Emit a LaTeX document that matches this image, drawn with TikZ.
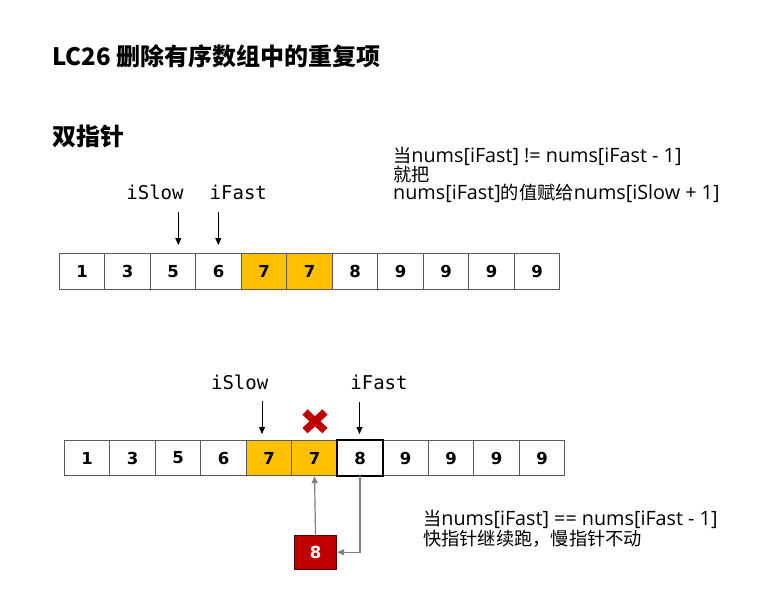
\documentclass[tikz,border=0pt]{standalone}
\usepackage{fontspec}
\setmainfont{Open Sans}[Scale=1.04]
\newfontfamily\cjk{Noto Sans CJK SC}[Scale=0.96]
\newfontfamily\cjkt{Noto Sans CJK SC}
\newfontfamily\monof{DejaVu Sans Mono}
\newfontfamily\digf{DejaVu Sans}
\usetikzlibrary{arrows.meta}
\definecolor{orng}{HTML}{FFC000}
\definecolor{dred}{HTML}{C00000}
\definecolor{cellline}{HTML}{595959}
\definecolor{grayarr}{HTML}{7F7F7F}
\begin{document}
\begin{tikzpicture}[x=1pt,y=-1pt,
 cell/.style={draw=cellline,line width=0.9pt,minimum width=45.5pt,minimum height=35.5pt,inner sep=0pt,font=\digf\fontsize{16.5}{16.5}\selectfont\bfseries},
 plain/.style={},
 hl/.style={fill=orng},
 ptr/.style={-{Triangle[width=6pt,length=7pt]},line width=0.8pt},
 garr/.style={-{Triangle[width=6pt,length=7pt]},line width=1.2pt,draw=grayarr},
 lbl/.style={font=\monof\fontsize{19}{19}\selectfont,anchor=base,inner sep=0pt},
 txt/.style={font=\fontsize{19}{19}\selectfont,anchor=base west,inner sep=0pt,text height=13pt,text depth=3.5pt},
 ttl/.style={font=\cjkt\fontsize{24}{24}\selectfont\bfseries,anchor=base west,inner sep=0pt}
]
\useasboundingbox (0,0) rectangle (766,592);
\fill[white] (0,0) rectangle (766,592);

% titles
\node[ttl] (title) at (52,65) {LC26 删除有序数组中的重复项};
\node[ttl] (sub) at (52,145) {双指针};

% top explanation
\node[txt] (e1) at (393,162.2) {{\cjk 当}nums[iFast] != nums[iFast - 1]};
\node[txt] (e2) at (393,181.5) {{\cjk 就把}};
\node[txt] (e3) at (393,199.5) {nums[iFast]{\cjk 的值赋给}nums[iSlow + 1]};

% top array
\foreach \v/\s [count=\i] in {1/plain,3/plain,5/plain,6/plain,7/hl,7/hl,8/plain,9/plain,9/plain,9/plain,9/plain}{
  \node[cell,\s] (t\i) at ({59.3+22.75+45.5*(\i-1)},271.5) {\v};
}
\node[lbl] (ts) at (155,199.3) {iSlow};
\node[lbl] (tf) at (238.3,199.3) {iFast};
\coordinate (tsA) at (178.3,211.7);
\coordinate (tsB) at (178.3,245);
\coordinate (tfA) at (218.3,211.7);
\coordinate (tfB) at (218.3,245);
\draw[ptr] (tsA) -- (tsB);
\draw[ptr] (tfA) -- (tfB);

% bottom array
\foreach \v/\s [count=\i] in {1/plain,3/plain,5/plain,6/plain,7/hl,7/hl,8/plain,9/plain,9/plain,9/plain,9/plain}{
  \node[cell,\s] (b\i) at ({64.3+22.75+45.5*(\i-1)},458) {\v};
}
\draw[black,line width=2pt] (b7.south west) rectangle (b7.north east);
\node[lbl] (bs) at (239.7,389.5) {iSlow};
\node[lbl] (bf) at (379,389.5) {iFast};
\coordinate (bsA) at (262,400.7);
\coordinate (bsB) at (262,434);
\coordinate (bfA) at (359.5,402);
\coordinate (bfB) at (359.5,434);
\draw[ptr] (bsA) -- (bsB);
\draw[ptr] (bfA) -- (bfB);

% red cross
\draw[dred,line width=7.5pt] (305,412) -- (325,430.6);
\draw[dred,line width=7.5pt] (325,412) -- (305,430.6);

% red box
\node[draw=black!55!dred,line width=0.9pt,fill=dred,minimum width=42.4pt,minimum height=34.3pt,inner sep=0pt,text=white,font=\digf\fontsize{16.5}{16.5}\selectfont\bfseries] (rb) at (315.5,552.2) {8};
\draw[garr] (rb.north) -- (b6.south);
\draw[garr] (b7.south) |- (rb.east);

% bottom explanation
\node[txt] (f1) at (423,525.8) {{\cjk 当}nums[iFast] == nums[iFast - 1]};
\node[txt] (f2) at (423,545) {{\cjk 快指针继续跑，慢指针不动}};
\end{tikzpicture}
\end{document}
